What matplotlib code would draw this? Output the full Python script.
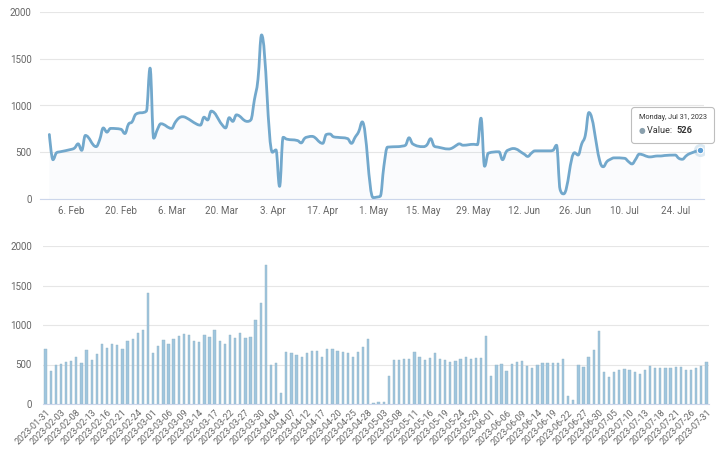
import numpy as np
import pandas as pd
import matplotlib
matplotlib.use("Agg")
import matplotlib.pyplot as plt
import matplotlib.dates as mdates
from matplotlib.path import Path
from matplotlib.patches import PathPatch
from matplotlib.offsetbox import TextArea, HPacker, VPacker, AnnotationBbox

plt.rcParams['font.family'] = ['Roboto', 'DejaVu Sans']

# ---- data (business days 2023-01-31 .. 2023-07-31) ----
dates = pd.bdate_range('2023-01-31', '2023-07-31')
values = [
    690, 420, 495, 505,
    530, 545, 590, 520, 680,
    560, 635, 760, 715, 755,
    745, 700, 800, 825, 905,
    940, 1400, 650, 740, 805,
    755, 820, 865, 880, 870,
    800, 790, 875, 845, 940,
    795, 760, 870, 830, 900,
    830, 845, 1060, 1280, 1755,
    500, 525, 135, 660, 640,
    625, 600, 650, 665, 670,
    595, 690, 695, 665, 660,
    645, 595, 660, 720, 825,
    15, 20, 30, 350, 555,
    560, 565, 575, 655, 590,
    560, 580, 645, 565, 555,
    535, 545, 570, 590, 575,
    585, 580, 865, 350, 490,
    505, 420, 505, 530, 540,
    480, 455, 490, 515, 515,
    515, 520, 575, 100, 55,
    495, 470, 590, 680, 925,
    410, 345, 400, 425, 440,
    435, 400, 375, 425, 480,
    450, 455, 460, 460, 465,
    470, 435, 425, 460, 485,
    526,
]
yticks = [0, 500, 1000, 1500, 2000]
top_tick_dates = pd.date_range('2023-02-06', '2023-07-31', freq='14D')
tooltip_day = "Monday, Jul 31, 2023"

LINE = '#72a8cc'
BAR = '#9fc6de'
GRID = '#e6e6e6'
LABEL = '#666666'

fig = plt.figure(figsize=(7.19, 4.54), dpi=100)
W, H = 719, 454
ax1 = fig.add_axes([40 / W, 1 - 199 / H, (704 - 40) / W, 187 / H])
ax2 = fig.add_axes([43 / W, 1 - 404 / H, (709 - 43) / W, 158 / H])

# ---- top: spline ----
x = mdates.date2num(dates.to_pydatetime())
y = np.array(values, dtype=float)

def spline_path(xs, ys, smoothing=1.5):
    n = len(xs)
    verts = [(xs[0], ys[0])]
    codes = [Path.MOVETO]
    lc = [None] * n
    rc = [None] * n
    for i in range(1, n - 1):
        lx, ly = xs[i - 1], ys[i - 1]
        px, py = xs[i], ys[i]
        nx, ny = xs[i + 1], ys[i + 1]
        d = smoothing + 1
        lcx = (smoothing * px + lx) / d
        lcy = (smoothing * py + ly) / d
        rcx = (smoothing * px + nx) / d
        rcy = (smoothing * py + ny) / d
        if rcx != lcx:
            corr = ((rcy - lcy) * (rcx - px)) / (rcx - lcx) + py - rcy
            lcy += corr
            rcy += corr
        if lcy > ly and lcy > py:
            lcy = max(ly, py); rcy = 2 * py - lcy
        elif lcy < ly and lcy < py:
            lcy = min(ly, py); rcy = 2 * py - lcy
        if rcy > ny and rcy > py:
            rcy = max(ny, py); lcy = 2 * py - rcy
        elif rcy < ny and rcy < py:
            rcy = min(ny, py); lcy = 2 * py - rcy
        lc[i] = (lcx, lcy)
        rc[i] = (rcx, rcy)
    for i in range(1, n):
        c1 = rc[i - 1] if rc[i - 1] is not None else (xs[i - 1], ys[i - 1])
        c2 = lc[i] if lc[i] is not None else (xs[i], ys[i])
        verts += [c1, c2, (xs[i], ys[i])]
        codes += [Path.CURVE4] * 3
    return verts, codes

verts, codes = spline_path(x, y)
fv = verts + [(x[-1], 0), (x[0], 0), (x[0], y[0])]
fc = codes + [Path.LINETO, Path.LINETO, Path.CLOSEPOLY]
ax1.add_patch(PathPatch(Path(fv, fc), facecolor=LINE, alpha=0.035, edgecolor='none', zorder=1))
ax1.add_patch(PathPatch(Path(verts, codes), facecolor='none', edgecolor=LINE, lw=2.0, zorder=3,
                        capstyle='round', joinstyle='round'))

ax1.set_xlim(x[0] - 2.6, x[-1] + 1.0)
ax1.set_ylim(0, 2000)
ax1.set_yticks(yticks)
ax1.set_yticklabels([str(v) for v in yticks])
ax1.set_xticks(mdates.date2num(top_tick_dates.to_pydatetime()))
ax1.set_xticklabels([f"{d.day}. {d.strftime('%b')}" for d in top_tick_dates])
ax1.grid(axis='y', color=GRID, lw=0.8)
ax1.set_axisbelow(True)
for s in ['top', 'right', 'left']:
    ax1.spines[s].set_visible(False)
ax1.spines['bottom'].set_color('#ccd6eb')
ax1.spines['bottom'].set_linewidth(0.8)
ax1.tick_params(axis='y', length=0, pad=6, labelsize=7, labelcolor=LABEL)
ax1.tick_params(axis='x', length=0, pad=5, labelsize=7, labelcolor=LABEL)

# highlighted last point + tooltip
ax1.scatter([x[-1]], [y[-1]], s=90, color=LINE, alpha=0.25, zorder=4, lw=0)
ax1.scatter([x[-1]], [y[-1]], s=22, color='#5d9fd6', edgecolor='white', lw=0.8, zorder=5)
t1 = TextArea(tooltip_day, textprops=dict(size=5.2, color='#333333'))
b = TextArea("\u25CF", textprops=dict(size=5.5, color='#8aa0ad'))
t2 = TextArea("Value: ", textprops=dict(size=6.6, color='#333333'))
t3 = TextArea(str(values[-1]), textprops=dict(size=6.6, color='#333333', weight='bold'))
row = HPacker(children=[b, t2, t3], align='baseline', pad=0, sep=1.5)
box = VPacker(children=[t1, row], align='left', pad=0, sep=3.5)
ab = AnnotationBbox(box, (x[-1], y[-1]), xybox=(-20, 18), xycoords='data',
                    boxcoords='offset points', frameon=True, box_alignment=(0.5, 0.5),
                    pad=0.55,
                    bboxprops=dict(boxstyle='round,pad=0.55,rounding_size=0.2', fc='white',
                                   ec='#bbbbbb', lw=0.8, alpha=0.95))
ab.set_zorder(6)
ax1.add_artist(ab)

# ---- bottom: bars ----
idx = np.arange(len(values))
ax2.bar(idx, values, width=0.45, color=BAR, edgecolor='#92b2c5', linewidth=0.3, zorder=2)
ax2.set_xlim(-0.5, len(values) - 0.5)
ax2.set_ylim(0, 2000)
ax2.set_yticks(yticks)
ax2.set_yticklabels([str(v) for v in yticks])
tick_idx = idx[::3]
ax2.set_xticks(tick_idx)
ax2.set_xticklabels([dates[i].strftime('%Y-%m-%d') for i in tick_idx], rotation=45,
                    ha='right', rotation_mode='anchor')
ax2.grid(axis='y', color=GRID, lw=0.8)
ax2.set_axisbelow(True)
for s in ['top', 'right', 'left']:
    ax2.spines[s].set_visible(False)
ax2.spines['bottom'].set_color('#ccd6eb')
ax2.spines['bottom'].set_linewidth(0.8)
ax2.tick_params(axis='y', length=0, pad=8, labelsize=7, labelcolor=LABEL)
ax2.tick_params(axis='x', length=0, pad=3, labelsize=6.5, labelcolor=LABEL)

fig.savefig('out.png', dpi=100)
